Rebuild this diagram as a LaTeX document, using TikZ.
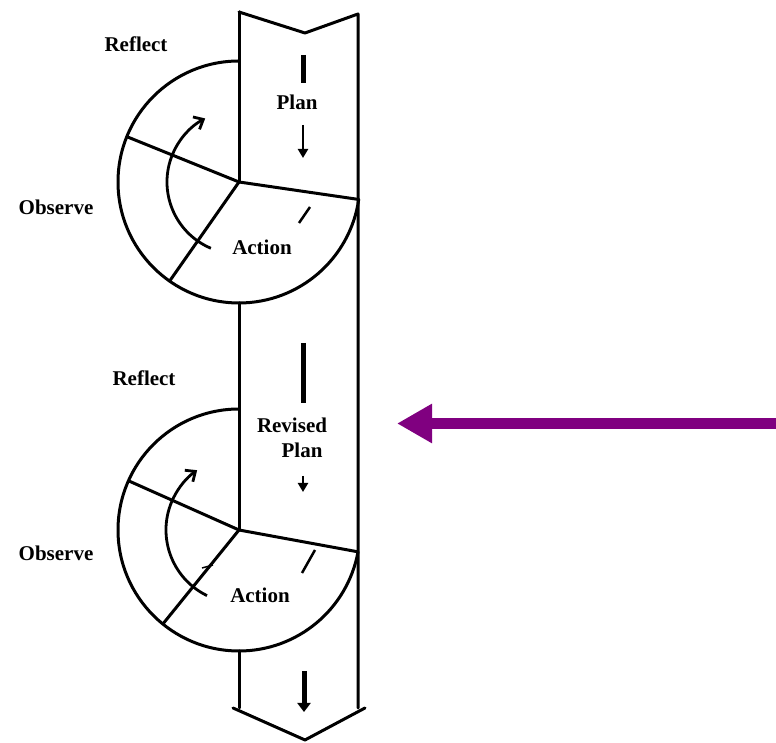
\documentclass[tikz,border=0pt]{standalone}
\usepackage{fontspec}
\setmainfont{Liberation Serif}
\usetikzlibrary{arrows.meta,calc}
\begin{document}
\begin{tikzpicture}[x=1pt,y=1pt,
  ln/.style={line width=3pt,line cap=round,line join=round},
  lbl/.style={font=\fontsize{21}{23}\selectfont\bfseries,inner sep=0pt},
  dashbar/.style={line width=5pt},
  thin/.style={line width=2.5pt},
  curvarrow/.style={line width=2.8pt,-{Straight Barb[length=8pt,width=14pt,line width=2.8pt]}},
  smallarrow/.style={line width=2.2pt,-{Triangle[length=9pt,width=10pt]}},
  bigdown/.style={line width=5pt,-{Triangle[length=9pt,width=13pt]}},
  purplearrow/.style={draw=purpleC,line width=11pt,-{Triangle[length=35pt,width=37pt]}}]
\definecolor{purpleC}{HTML}{800080}
\useasboundingbox (0,0) rectangle (776,743);

% band outline
\coordinate (tl) at (239,731);
\coordinate (notch) at (305,710);
\coordinate (tr) at (358,729);
\coordinate (bl) at (239,35);
\coordinate (bv) at (305,3);
\coordinate (br) at (358,35);
\coordinate (blo) at (233,35);
\coordinate (bro) at (365,35);
\draw[ln] (tl) -- (notch) -- (tr) -- (br);
\draw[ln] (blo) -- (bv) -- (bro);

% upper circle
\coordinate (c1) at (239,561);
\coordinate (c1top) at (239,682);
\coordinate (c1bot) at (239,440);
\coordinate (c1r) at ($(c1)+(-8.3:121)$);
\draw[ln] (tl) -- (c1);
\draw[ln] (c1top) arc[start angle=90,end angle=351.7,radius=121];
\draw[ln] (c1) -- (c1r);
\draw[ln] (c1) -- ($(c1)+(158:121)$);
\draw[ln] (c1) -- ($(c1)+(235:121)$);

% lower circle
\coordinate (c2) at (239,213);
\coordinate (c2top) at (239,334);
\coordinate (c2bot) at (239,92);
\coordinate (c2r) at ($(c2)+(-10.4:121)$);
\draw[ln] (c1bot) -- (c2);
\draw[ln] (c2top) arc[start angle=90,end angle=349.6,radius=121];
\draw[ln] (c2) -- (c2r);
\draw[ln] (c2) -- ($(c2)+(156:121)$);
\draw[ln] (c2) -- ($(c2)+(231:121)$);
\draw[ln] (c2bot) -- (bl);

% curved arrows
\draw[curvarrow] ($(c1)+(247:72)$) arc[start angle=247,end angle=118,radius=72];
\draw[curvarrow] ($(c2)+(244:73)$) arc[start angle=244,end angle=125,radius=73];

% marks in band
\coordinate (d1a) at (303,688); \coordinate (d1b) at (303,660);
\draw[dashbar] (d1a) -- (d1b);
\coordinate (a1a) at (303,618); \coordinate (a1b) at (303,585);
\draw[smallarrow] (a1a) -- (a1b);
\coordinate (t1a) at (310,536); \coordinate (t1b) at (299,520);
\draw[thin] (t1a) -- (t1b);

\coordinate (d2a) at (303,400); \coordinate (d2b) at (303,340);
\draw[dashbar] (d2a) -- (d2b);
\coordinate (a2a) at (303,267); \coordinate (a2b) at (303,251);
\draw[smallarrow] (a2a) -- (a2b);
\coordinate (t2a) at (315,193); \coordinate (t2b) at (302,170);
\draw[thin] (t2a) -- (t2b);
\coordinate (t3a) at (202,175); \coordinate (t3b) at (213,178);
\draw[line width=1.5pt] (t3a) -- (t3b);

\coordinate (a3a) at (304,72); \coordinate (a3b) at (304,31);
\draw[bigdown] (a3a) -- (a3b);

% labels
\node[lbl] (reflect1) at (136,699) {Reflect};
\node[lbl] (observe1) at (56,536) {Observe};
\node[lbl] (plan1) at (297,641) {Plan};
\node[lbl] (action1) at (262,496) {Action};
\node[lbl] (reflect2) at (144,365) {Reflect};
\node[lbl] (revised) at (292,318) {Revised};
\node[lbl] (plan2) at (302,293) {Plan};
\node[lbl] (observe2) at (56,190) {Observe};
\node[lbl] (action2) at (260,148) {Action};

% purple arrow
\coordinate (pstart) at (776,319.5);
\coordinate (pend) at (397,319.5);
\draw[purplearrow] (pstart) -- (pend);
\end{tikzpicture}
\end{document}
